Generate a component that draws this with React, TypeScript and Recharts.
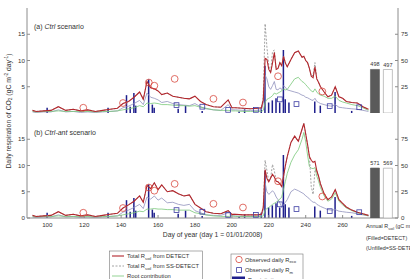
import React from 'react';
import { ComposedChart, Line, Bar, Scatter, XAxis, YAxis, Cell, LabelList } from 'recharts';

// model output, sampled on these days of year
const days = [
  92, 94, 98, 102, 106, 110, 114, 118, 122, 126, 130, 134, 138,
  141, 144, 147,
  150, 152, 154, 156, 158, 160, 162,
  165, 168, 171, 174, 177, 180, 183, 186,
  190, 194, 198, 200, 202, 206, 210, 214, 216,
  217, 218, 219, 220, 221, 222, 223, 224, 225, 226, 227, 228, 229, 230,
  232, 234, 236, 238,
  239, 240, 241, 242, 243, 244, 245, 246, 247, 248,
  250, 252, 254, 256, 258, 260, 262,
  265, 268, 271, 274,
];

// (a) Ctrl
const ctrlDetect = [
  0.5, 0.3, 0.4, 0.5, 1.2, 0.5, 0.7, 0.4, 0.6, 0.3, 0.5, 0.7, 0.9,
  1.8, 2.2, 3.0,
  4.0, 2.6, 6.0, 4.8, 4.6, 4.2, 3.5,
  3.8, 3.2, 3.0, 2.8, 2.7, 3.2, 2.2, 1.6,
  1.2, 1.1, 2.5, 1.0, 1.0, 0.9, 0.8, 0.9, 1.0,
  2.5, 10.4, 10.2, 8.3, 7.7, 9.5, 11.5, 8.3, 8.5, 9.6, 9.0, 10.8, 9.5, 8.8,
  10.2, 11.5, 11.8, 10.6,
  10.8, 10.0, 9.6, 8.5, 7.0, 6.7, 8.8, 6.5, 5.8, 5.0,
  4.0, 3.1, 3.4, 5.0, 3.1, 2.8, 2.2,
  2.0, 1.9, 1.2, 0.7,
];
const ctrlSsDetect = [
  0.5, 0.3, 0.4, 0.5, 1.2, 0.5, 0.7, 0.4, 0.6, 0.3, 0.5, 0.7, 0.9,
  1.8, 2.2, 3.0,
  4.0, 2.6, 6.0, 4.8, 4.6, 4.2, 3.5,
  3.8, 3.2, 3.0, 2.8, 2.7, 3.2, 2.2, 1.6,
  1.2, 1.1, 2.5, 1.0, 1.0, 0.9, 0.8, 0.9, 1.0,
  3.0, 17.0, 12.5, 9.0, 7.7, 11.7, 12.0, 8.3, 8.5, 9.6, 9.0, 10.8, 9.5, 8.8,
  10.2, 11.5, 11.8, 10.6,
  10.8, 10.0, 9.6, 8.5, 7.0, 7.2, 9.6, 6.5, 5.8, 5.0,
  4.0, 3.1, 3.4, 5.0, 3.1, 2.8, 2.2,
  2.0, 1.9, 1.2, 0.7,
];
const ctrlRoot = [
  0.3, 0.2, 0.3, 0.3, 0.4, 0.3, 0.3, 0.3, 0.3, 0.2, 0.3, 0.3, 0.4,
  0.6, 0.8, 1.0,
  1.4, 1.2, 1.9, 1.8, 1.9, 1.8, 1.6,
  1.6, 1.5, 1.4, 1.4, 1.3, 1.4, 1.1, 0.9,
  0.6, 0.5, 0.5, 0.4, 0.4, 0.3, 0.3, 0.3, 0.3,
  0.5, 2.0, 2.6, 2.8, 3.0, 3.3, 3.8, 3.6, 3.8, 4.0, 4.2, 4.6, 4.4, 4.5,
  5.5, 6.5, 6.8, 6.0,
  5.8, 5.4, 5.0, 4.6, 4.2, 4.0, 4.6, 4.0, 3.6, 3.4,
  3.2, 2.8, 2.8, 3.2, 2.4, 2.1, 1.9,
  1.6, 1.4, 1.0, 0.5,
];
const ctrlMicrobe = [
  0.2, 0.1, 0.2, 0.2, 0.6, 0.2, 0.3, 0.1, 0.2, 0.1, 0.2, 0.3, 0.4,
  1.0, 1.3, 1.8,
  2.4, 1.6, 3.8, 3.0, 2.8, 2.5, 2.0,
  2.2, 1.8, 1.6, 1.5, 1.4, 1.8, 1.2, 0.8,
  0.6, 0.5, 1.6, 0.6, 0.6, 0.5, 0.5, 0.5, 0.6,
  1.8, 7.2, 6.5, 5.0, 4.5, 5.2, 6.0, 4.5, 4.4, 4.8, 4.5, 5.2, 4.9, 4.4,
  4.2, 4.0, 3.8, 3.4,
  3.3, 3.0, 2.9, 2.7, 2.5, 2.4, 2.8, 2.2, 2.0, 1.8,
  1.6, 1.4, 1.3, 1.6, 1.1, 1.0, 0.9,
  0.8, 0.7, 0.5, 0.3,
];

// (b) Ctrl-ant
const antDetect = [
  0.5, 0.3, 0.4, 0.5, 1.2, 0.5, 0.7, 0.4, 0.6, 0.3, 0.5, 0.7, 0.9,
  1.9, 2.5, 3.2,
  4.2, 3.0, 6.2, 5.6, 6.7, 5.4, 6.3,
  5.0, 5.2, 4.6, 4.2, 4.4, 2.6, 1.9, 1.2,
  0.9, 0.8, 1.4, 0.7, 0.7, 0.6, 0.6, 0.6, 0.7,
  2.0, 9.2, 7.5, 6.9, 7.6, 8.3, 7.8, 7.0, 6.9, 6.5, 6.0, 8.0, 10.0, 11.7,
  14.4, 15.6, 14.6, 16.9,
  18.0, 16.0, 14.0, 11.7, 11.0, 10.6, 10.8, 9.0, 7.9, 6.5,
  4.6, 3.5, 4.0, 5.4, 3.5, 2.8, 2.1,
  1.5, 1.1, 0.8, 0.5,
];
const antSsDetect = [
  0.5, 0.3, 0.4, 0.5, 1.2, 0.5, 0.7, 0.4, 0.6, 0.3, 0.5, 0.7, 0.9,
  1.9, 2.5, 3.2,
  4.2, 3.0, 6.2, 5.6, 6.7, 5.4, 6.3,
  5.0, 5.2, 4.6, 4.2, 4.4, 2.6, 1.9, 1.2,
  0.9, 0.8, 1.4, 0.7, 0.7, 0.6, 0.6, 0.6, 0.7,
  2.0, 11.0, 9.0, 6.9, 7.6, 10.2, 9.0, 7.0, 6.9, 6.5, 6.0, 8.0, 10.0, 11.7,
  14.4, 15.6, 14.6, 16.9,
  18.0, 16.0, 14.0, 11.7, 6.0, 4.5, 9.0, 9.0, 7.9, 6.5,
  4.6, 3.5, 4.0, 5.4, 3.5, 2.8, 2.1,
  1.5, 1.1, 0.8, 0.5,
];
const antRoot = [
  0.3, 0.2, 0.3, 0.3, 0.4, 0.3, 0.3, 0.3, 0.3, 0.2, 0.3, 0.3, 0.4,
  0.6, 0.8, 1.0,
  1.3, 1.2, 1.7, 1.7, 1.8, 1.7, 1.7,
  1.6, 1.6, 1.5, 1.5, 1.5, 1.0, 0.8, 0.6,
  0.4, 0.3, 0.3, 0.4, 0.3, 0.3, 0.3, 0.3, 0.3,
  0.4, 1.5, 1.8, 2.0, 2.3, 2.6, 2.8, 3.0, 3.3, 3.6, 4.0, 5.5, 7.0, 8.5,
  10.6, 12.0, 13.0, 15.0,
  16.3, 14.5, 12.0, 9.8, 9.5, 9.4, 9.6, 8.0, 7.0, 5.8,
  4.2, 3.2, 3.6, 4.8, 3.2, 2.5, 1.9,
  1.4, 1.0, 0.7, 0.4,
];
const antMicrobe = [
  0.2, 0.1, 0.2, 0.2, 0.6, 0.2, 0.3, 0.1, 0.2, 0.1, 0.2, 0.3, 0.4,
  1.1, 1.5, 2.0,
  2.6, 1.8, 4.0, 3.6, 4.2, 3.4, 3.8,
  2.9, 3.0, 2.6, 2.4, 2.6, 1.4, 1.0, 0.6,
  0.5, 0.5, 1.0, 0.4, 0.4, 0.3, 0.3, 0.3, 0.4,
  1.5, 6.7, 5.0, 4.5, 4.8, 5.2, 4.8, 4.0, 3.5, 2.9, 2.0, 2.5, 3.0, 3.5,
  5.0, 5.5, 5.2, 4.8,
  4.6, 4.2, 4.0, 3.6, 3.3, 3.0, 3.0, 2.6, 2.4, 2.2,
  1.9, 1.6, 1.5, 1.6, 1.3, 1.2, 1.1,
  1.0, 0.8, 0.6, 0.4,
];

// observations (same in both panels)
const recoDays = [119.5, 141, 155, 158, 169, 190, 206, 225, 249];
const recoValues = [1.0, 1.9, 5.8, 5.2, 6.5, 2.7, 2.0, 7.0, 4.1];
const rmDays = [170, 184, 198, 213, 226, 235, 253, 269];
const rmValues = [1.5, 1.2, 0.6, 0.6, 2.6, 1.7, 1.3, 1.1];

// daily precipitation, right axis
const rainDays = [100, 133, 143, 145, 147, 148, 155, 157, 158, 171, 175, 184, 204, 207, 216, 218, 220, 222, 224, 226, 228, 229, 231, 245, 248, 256, 265];
const rainMm = [5, 5, 17, 6, 19, 7, 32, 8, 5, 4, 7, 2, 1.5, 3.5, 5, 45, 10, 12, 14, 10, 60, 13, 10, 11, 7, 20, 2];

// annual totals (filled = DETECT, unfilled = SS-DETECT)
const annualDays = [277.5, 284.5];
const annualCtrl = [498, 497];
const annualAnt = [571, 569];

const xTicks = [100, 120, 140, 160, 180, 200, 220, 240, 260];
const leftTicks = [0, 5, 10, 15];
const rightTicks = [0, 25, 50, 75];

const W = 410;
const X_DOMAIN: [number, number] = [89, 290];
const FONT = '"Liberation Sans", Arial, Helvetica, sans-serif';
const AXIS = '#8c8c8c';
const INK = '#333333';
const RED = '#b3262c';
const SS_GREY = '#8a8a8a';
const GREEN = '#78c878';
const MICROBE = '#9092bd';
const NAVY = '#1f1f8c';
const RING = '#d8493f';
const SQUARE = '#3d3da3';

const pairs = (xs: number[], ys: number[]) => xs.map((d, i) => ({ day: d, v: ys[i] }));

function Ring(p: any) {
  if (p.cx == null || p.cy == null) return null;
  return <circle cx={p.cx} cy={p.cy} r={3.4} fill="none" stroke={RING} strokeWidth={0.8} />;
}

function Square(p: any) {
  if (p.cx == null || p.cy == null) return null;
  return <rect x={p.cx - 2.4} y={p.cy - 2.4} width={4.8} height={4.8} fill="none" stroke={SQUARE} strokeWidth={0.8} />;
}

interface PanelProps {
  top: number;
  height: number;
  marginTop: number;
  marginBottom: number;
  labelled: boolean;
  detect: number[];
  ss: number[];
  root: number[];
  microbe: number[];
  annual: number[];
}

function Panel({ top, height, marginTop, marginBottom, labelled, detect, ss, root, microbe, annual }: PanelProps) {
  const rain = rainDays.map((d, i) => ({ day: d, rain: rainMm[i] }));
  const ann = annualDays.map((d, i) => ({ day: d, v: annual[i], open: i === 1 }));
  const tick = { fontSize: 6.2, fill: INK, fontFamily: FONT };
  const xHeight = labelled ? 14 : 0;

  return (
    <>
      <div style={{ position: 'absolute', left: 0, top }}>
        <ComposedChart width={W} height={height} data={rain} margin={{ top: marginTop, right: 0, bottom: marginBottom, left: 0 }}>
          <XAxis dataKey="day" type="number" domain={X_DOMAIN} ticks={xTicks} allowDataOverflow height={xHeight}
            stroke={AXIS} tickSize={-3} tickMargin={8} tick={labelled ? tick : false} />
          <XAxis xAxisId="top" orientation="top" dataKey="day" type="number" domain={X_DOMAIN} ticks={xTicks}
            allowDataOverflow height={0} stroke={AXIS} tickSize={-3} tick={false} />
          <YAxis yAxisId="l" domain={[0, 20]} ticks={leftTicks} allowDataOverflow width={27}
            stroke={AXIS} tickSize={-3} tickMargin={5} tick={tick} />
          <YAxis yAxisId="r" orientation="right" domain={[0, 100]} ticks={rightTicks} allowDataOverflow width={12}
            stroke={AXIS} tickSize={-3} tickMargin={6} tick={tick} />
          <Bar yAxisId="r" dataKey="rain" fill={NAVY} barSize={1.5} isAnimationActive={false} />
          <Line yAxisId="l" data={pairs(days, microbe)} dataKey="v" type="linear" stroke={MICROBE} strokeWidth={0.8} dot={false} isAnimationActive={false} />
          <Line yAxisId="l" data={pairs(days, root)} dataKey="v" type="linear" stroke={GREEN} strokeWidth={0.8} dot={false} isAnimationActive={false} />
          <Line yAxisId="l" data={pairs(days, ss)} dataKey="v" type="linear" stroke={SS_GREY} strokeWidth={0.8} strokeDasharray="2 1.5" dot={false} isAnimationActive={false} />
          <Line yAxisId="l" data={pairs(days, detect)} dataKey="v" type="linear" stroke={RED} strokeWidth={1.1} dot={false} isAnimationActive={false} />
          <Scatter yAxisId="l" data={pairs(recoDays, recoValues)} dataKey="v" shape={<Ring />} isAnimationActive={false} />
          <Scatter yAxisId="l" data={pairs(rmDays, rmValues)} dataKey="v" shape={<Square />} isAnimationActive={false} />
        </ComposedChart>
      </div>
      <div style={{ position: 'absolute', left: 0, top }}>
        <ComposedChart width={W} height={height} data={ann} margin={{ top: marginTop, right: 12, bottom: marginBottom + xHeight, left: 27 }}>
          <XAxis dataKey="day" type="number" domain={X_DOMAIN} hide allowDataOverflow />
          <YAxis domain={[0, 1200]} hide allowDataOverflow />
          <Bar dataKey="v" barSize={9} isAnimationActive={false}>
            {ann.map((a, i) => (
              <Cell key={i} fill={a.open ? '#ffffff' : '#5a5a5a'} stroke={a.open ? '#9a9a9a' : '#5a5a5a'} strokeWidth={0.6} />
            ))}
            <LabelList dataKey="v" position="top" offset={3} style={{ fontSize: 5.5, fill: INK, fontFamily: FONT }} />
          </Bar>
        </ComposedChart>
      </div>
    </>
  );
}

function Sub({ children }: { children: React.ReactNode }) {
  return <tspan dy={1.5} fontSize="0.72em">{children}</tspan>;
}

export default function App() {
  return (
    <div style={{ position: 'absolute', left: 0, top: 0, width: W, height: 279, overflow: 'hidden', background: '#fff' }}>
      <Panel top={0} height={114} marginTop={8} marginBottom={1} labelled={false}
        detect={ctrlDetect} ss={ctrlSsDetect} root={ctrlRoot} microbe={ctrlMicrobe} annual={annualCtrl} />
      <Panel top={113} height={166} marginTop={0} marginBottom={47} labelled
        detect={antDetect} ss={antSsDetect} root={antRoot} microbe={antMicrobe} annual={annualAnt} />

      <svg width={W} height={279} style={{ position: 'absolute', left: 0, top: 0 }} fontFamily={FONT} fill={INK}>
        <text x={34} y={28.5} fontSize={7}>(a) <tspan fontStyle="italic">Ctrl</tspan> scenario</text>
        <text x={34} y={134.5} fontSize={7}>(b) <tspan fontStyle="italic">Ctrl-ant</tspan> scenario</text>

        <text transform="translate(10.5,111) rotate(-90)" textAnchor="middle" fontSize={6.8}>
          Daily respiration of CO<tspan dy={1.6} fontSize={4.8}>2</tspan>
          <tspan dy={-1.6}> (gC m</tspan><tspan dy={-2.2} fontSize={4.8}>-2</tspan>
          <tspan dy={2.2}> day</tspan><tspan dy={-2.2} fontSize={4.8}>-1</tspan><tspan dy={2.2}>)</tspan>
        </text>

        <text x={212.5} y={236.5} textAnchor="middle" fontSize={6.8}>Day of year (day 1 = 01/01/2008)</text>

        <g fontSize={5.4}>
          <text x={366} y={228}>
            Annual R<Sub>soil</Sub><tspan dy={-1.5}> (gC m</tspan><tspan dy={-2} fontSize={4}>-2</tspan>
            <tspan dy={2}> yr</tspan><tspan dy={-2} fontSize={4}>-1</tspan><tspan dy={2}>)</tspan>
          </text>
          <text x={366} y={240}>(Filled=DETECT)</text>
          <text x={366} y={249.5}>(Unfilled=SS-DETECT)</text>
        </g>

        <g fontSize={5.8}>
          <rect x={109.5} y={251} width={93} height={45} fill="#fff" stroke="#777" strokeWidth={0.6} />
          <line x1={112} x2={124} y1={256} y2={256} stroke={RED} strokeWidth={1.1} />
          <text x={127} y={258}>Total R<Sub>soil</Sub><tspan dy={-1.5}> from DETECT</tspan></text>
          <line x1={112} x2={124} y1={266} y2={266} stroke={SS_GREY} strokeWidth={0.8} strokeDasharray="2 1.5" />
          <text x={127} y={268}>Total R<Sub>soil</Sub><tspan dy={-1.5}> from SS-DETECT</tspan></text>
          <line x1={112} x2={124} y1={276} y2={276} stroke={GREEN} strokeWidth={0.8} />
          <text x={127} y={278}>Root contribution</text>
          <line x1={112} x2={124} y1={286} y2={286} stroke={MICROBE} strokeWidth={0.8} />
          <text x={127} y={288}>Microbial contribution</text>

          <rect x={231} y={254} width={72} height={40} fill="#fff" stroke="#777" strokeWidth={0.6} />
          <circle cx={239} cy={259.5} r={3.2} fill="none" stroke={RING} strokeWidth={0.8} />
          <text x={245} y={261.5}>Observed daily R<Sub>eco</Sub></text>
          <rect x={236.6} y={267.6} width={4.8} height={4.8} fill="none" stroke={SQUARE} strokeWidth={0.8} />
          <text x={245} y={272}>Observed daily R<Sub>m</Sub></text>
          <rect x={232} y={276.5} width={13} height={6} fill={NAVY} />
          <text x={248} y={282}>Precipitation</text>
        </g>
      </svg>
    </div>
  );
}
